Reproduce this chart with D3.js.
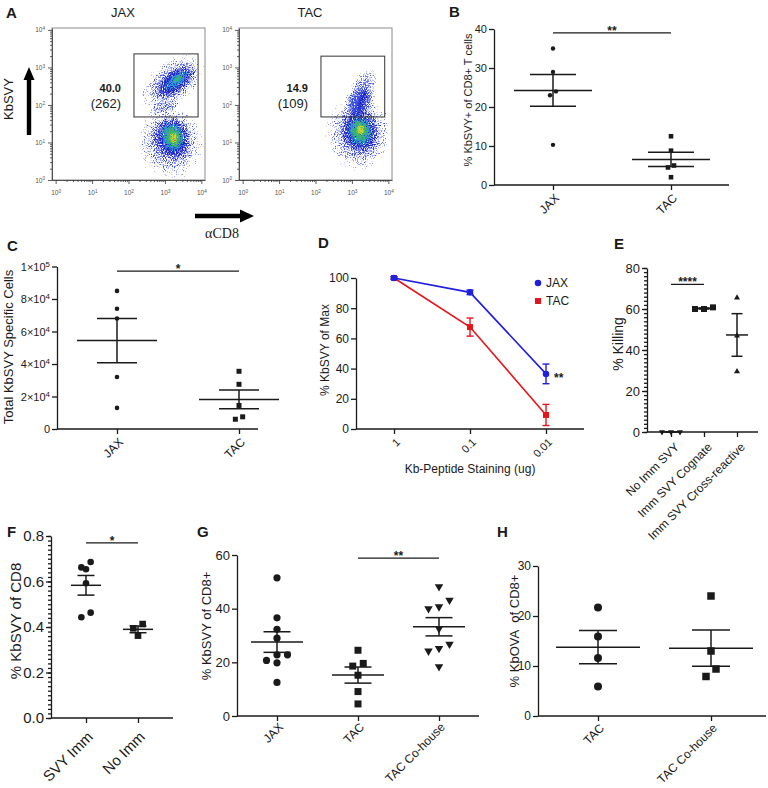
<!DOCTYPE html>
<html>
<head>
<meta charset="utf-8">
<script src="https://cdnjs.cloudflare.com/ajax/libs/d3/7.8.5/d3.min.js"></script>
<style>
  body { margin: 0; background: #fff; }
  svg { display: block; font-family: "Liberation Sans", Arial, Helvetica, sans-serif; }
  .axis path, .axis line { stroke: #1a1a1a; stroke-width: 1.3; }
  .axis text { fill: #1a1a1a; }
  .faxis path, .faxis line { stroke: #333; stroke-width: 0.8; }
</style>
</head>
<body>
<script>

// ---- A: flow plots (log10 units) ----
var flowDecades = [0, 1, 2, 3, 4];
var jaxGate = [2.15, 3.91, 1.68, 3.36];
var tacGate = [2.15, 3.9, 1.68, 3.3];
var jaxGateText = ["40.0", "(262)"];
var tacGateText = ["14.9", "(109)"];
// density blobs: centre, radii (decades), tilt, density level
var jaxBlobs = [
  {cx: 3.15, cy: 1.0, rx: 1.0, ry: 1.1, rot: 0, level: 0},
  {cx: 3.2, cy: 2.6, rx: 1.1, ry: 0.65, rot: -38, level: 0},
  {cx: 3.2, cy: 1.1, rx: 0.6, ry: 0.72, rot: -20, level: 1},
  {cx: 3.28, cy: 2.62, rx: 0.75, ry: 0.38, rot: -38, level: 1},
  {cx: 3.2, cy: 1.15, rx: 0.4, ry: 0.48, rot: -20, level: 2},
  {cx: 3.32, cy: 2.66, rx: 0.5, ry: 0.22, rot: -38, level: 2},
  {cx: 3.22, cy: 1.15, rx: 0.3, ry: 0.38, rot: -20, level: 3},
  {cx: 3.36, cy: 2.7, rx: 0.28, ry: 0.11, rot: -38, level: 3},
  {cx: 3.24, cy: 1.12, rx: 0.17, ry: 0.22, rot: 0, level: 4},
  {cx: 3.25, cy: 1.1, rx: 0.09, ry: 0.11, rot: 0, level: 5}
];
var tacBlobs = [
  {cx: 3.18, cy: 1.25, rx: 1.0, ry: 1.15, rot: 0, level: 0},
  {cx: 3.3, cy: 2.4, rx: 0.75, ry: 0.38, rot: -70, level: 0},
  {cx: 3.22, cy: 1.3, rx: 0.6, ry: 0.75, rot: -15, level: 1},
  {cx: 3.3, cy: 2.2, rx: 0.35, ry: 0.15, rot: -70, level: 1},
  {cx: 3.22, cy: 1.3, rx: 0.42, ry: 0.5, rot: -15, level: 2},
  {cx: 3.22, cy: 1.3, rx: 0.32, ry: 0.38, rot: -15, level: 3},
  {cx: 3.24, cy: 1.33, rx: 0.17, ry: 0.2, rot: 0, level: 4},
  {cx: 3.25, cy: 1.35, rx: 0.09, ry: 0.1, rot: 0, level: 5}
];

// ---- B ----
var bCats = ["JAX", "TAC"];
var bJax = [35, 29, 24, 23, 10.3];
var bTac = [12.5, 8.8, 5, 4.5, 2];

// ---- C ----
var cCats = ["JAX", "TAC"];
var cJax = [85000, 74000, 68000, 32000, 13000];
var cTac = [35500, 27500, 14500, 7500, 6000];

// ---- D ----
var dDoses = ["1", "0.1", "0.01"];
var dJax = [100, 90.5, 36.5];
var dJaxErr = [0.8, 1.5, 6.5];
var dTac = [100, 67.5, 9.3];
var dTacErr = [0.8, 6, 7];

// ---- E ----
var eCats = ["No Imm SVY", "Imm SVY Cognate", "Imm SVY Cross-reactive"];
var eNoImm = [0, 0, 0];
var eCognate = [60.8, 60, 60];
var eCross = [65.5, 47, 29.5];

// ---- F ----
var fCats = ["SVY Imm", "No Imm"];
var fSvy = [0.686, 0.662, 0.654, 0.592, 0.463, 0.443];
var fNoImm = [0.413, 0.394, 0.362];

// ---- G ----
var gCats = ["JAX", "TAC", "TAC Co-house"];
var gJax = [51.5, 36.6, 32.3, 29, 22.8, 22.8, 20.7, 19.8, 12.5];
var gTac = [24.5, 19.6, 18.6, 15.2, 9.1, 4.5];
var gCohouse = [48.2, 43.2, 40.7, 40, 32.6, 26.8, 25.2, 24.2, 18.4];

// ---- H ----
var hCats = ["TAC", "TAC Co-house"];
var hTac = [21.7, 15.9, 11.6, 5.9];
var hCohouse = [24, 13, 9.4, 7.9];


var ink = "#1a1a1a";
var svg = d3.select("body").append("svg").attr("width", 768).attr("height", 788);
var defs = svg.append("defs");

// flow density: each level becomes grainy dots whose density follows the blob's alpha
var flowColors = ["#3a4ee0", "#1c22c2", "#2b9bd6", "#3db664", "#c8d634", "#e2521e"];
var levelAlpha = [[0.66, 0.52, 0.28], [0.78, 0.64, 0.36], [0.85, 0.66, 0.38],
                  [0.85, 0.68, 0.4], [0.88, 0.7, 0.42], [0.9, 0.74, 0.46]];
flowColors.forEach(function (c, L) {
  var f = defs.append("filter").attr("id", "dots" + L)
      .attr("filterUnits", "userSpaceOnUse").attr("x", 0).attr("y", 0)
      .attr("width", 420).attr("height", 200)
      .attr("color-interpolation-filters", "sRGB");
  f.append("feGaussianBlur").attr("in", "SourceAlpha").attr("stdDeviation", 2).attr("result", "b");
  f.append("feTurbulence").attr("type", "fractalNoise").attr("baseFrequency", 0.9)
      .attr("numOctaves", 1).attr("seed", L * 3 + 1).attr("result", "n");
  f.append("feColorMatrix").attr("in", "n").attr("type", "matrix")
      .attr("values", "0 0 0 0 0  0 0 0 0 0  0 0 0 0 0  0 0 0 1 0").attr("result", "na");
  f.append("feComposite").attr("in", "b").attr("in2", "na").attr("operator", "arithmetic")
      .attr("k1", 0).attr("k2", 5).attr("k3", -5).attr("k4", 0).attr("result", "d");
  f.append("feFlood").attr("flood-color", c).attr("result", "f");
  f.append("feComposite").attr("in", "f").attr("in2", "d").attr("operator", "in");

  var gr = defs.append("radialGradient").attr("id", "dens" + L);
  [0, 0.6, 1].forEach(function (o, i) {
    gr.append("stop").attr("offset", o).attr("stop-color", "#000").attr("stop-opacity", levelAlpha[L][i]);
  });
});

function supText(sel, base, exp) {
  sel.text("");
  sel.append("tspan").text(base);
  sel.append("tspan").attr("dy", "-0.45em").attr("font-size", "72%").text(exp);
}

// panel letters
[["A", 6, 18], ["B", 449, 17], ["C", 7, 251], ["D", 318, 248], ["E", 614, 249],
 ["F", 7, 537], ["G", 197, 537], ["H", 497, 537]].forEach(function (l) {
  svg.append("text").attr("x", l[1]).attr("y", l[2]).attr("font-size", 15)
      .attr("font-weight", "bold").attr("fill", ink).text(l[0]);
});

// ---------------- A ----------------
function flowPlot(o) {
  var g = svg.append("g");
  var top = 28, bottom = 180, w = 153;
  var x = d3.scaleLinear().domain([-0.1, 4.1]).range([o.left, o.left + w]);
  var y = d3.scaleLinear().domain([0, 4.05]).range([bottom, top]);
  var k = x(1) - x(0);

  defs.append("clipPath").attr("id", "clip" + o.name)
      .append("rect").attr("x", o.left).attr("y", top).attr("width", w).attr("height", bottom - top);
  var pts = g.append("g").attr("clip-path", "url(#clip" + o.name + ")");

  d3.range(6).forEach(function (L) {
    var lg = pts.append("g").attr("filter", "url(#dots" + L + ")");
    o.blobs.filter(function (b) { return b.level === L; }).forEach(function (b) {
      var cx = x(b.cx), cy = y(b.cy);
      lg.append("ellipse").attr("cx", cx).attr("cy", cy)
          .attr("rx", b.rx * k).attr("ry", b.ry * k)
          .attr("transform", "rotate(" + (b.rot || 0) + "," + cx + "," + cy + ")")
          .attr("fill", "url(#dens" + L + ")");
    });
  });

  g.append("rect").attr("x", o.left).attr("y", top).attr("width", w).attr("height", bottom - top)
      .attr("fill", "none").attr("stroke", "#8a8a8a").attr("stroke-width", 1);

  var minor = [];
  flowDecades.slice(0, -1).forEach(function (d) {
    for (var m = 2; m < 10; m++) minor.push(d + Math.log10(m));
  });

  var xa = g.append("g").attr("class", "faxis").attr("transform", "translate(0," + bottom + ")");
  xa.call(d3.axisBottom(x).tickValues(minor).tickSize(2).tickFormat("").tickSizeOuter(0));
  xa.select(".domain").remove();
  var xb = g.append("g").attr("class", "faxis").attr("transform", "translate(0," + bottom + ")")
      .call(d3.axisBottom(x).tickValues(flowDecades).tickSize(4).tickSizeOuter(0).tickPadding(6));
  xb.attr("font-family", null).attr("font-size", 6.5);
  xb.selectAll("text").attr("fill", "#555").each(function (d) { supText(d3.select(this), "10", d); });

  var ya = g.append("g").attr("class", "faxis").attr("transform", "translate(" + o.left + ",0)");
  ya.call(d3.axisLeft(y).tickValues(minor).tickSize(2).tickFormat("").tickSizeOuter(0));
  ya.select(".domain").remove();
  var yb = g.append("g").attr("class", "faxis").attr("transform", "translate(" + o.left + ",0)")
      .call(d3.axisLeft(y).tickValues(flowDecades).tickSize(4).tickSizeOuter(0).tickPadding(3));
  yb.attr("font-family", null).attr("font-size", 6.5);
  yb.selectAll("text").attr("fill", "#555").each(function (d) { supText(d3.select(this), "10", d); });

  g.append("rect").attr("x", x(o.gate[0])).attr("y", y(o.gate[3]))
      .attr("width", x(o.gate[1]) - x(o.gate[0])).attr("height", y(o.gate[2]) - y(o.gate[3]))
      .attr("fill", "none").attr("stroke", "#333").attr("stroke-width", 1);

  g.append("text").attr("x", o.left + 69).attr("y", 92).attr("text-anchor", "end")
      .attr("font-size", 11).attr("font-weight", "bold").attr("fill", ink).text(o.text[0]);
  g.append("text").attr("x", o.left + 69).attr("y", 108).attr("text-anchor", "end")
      .attr("font-size", 13).attr("fill", ink).text(o.text[1]);

  g.append("text").attr("x", o.left + 71).attr("y", 17).attr("text-anchor", "middle")
      .attr("font-size", 13).attr("fill", ink).text(o.name);
}

flowPlot({name: "JAX", left: 52, blobs: jaxBlobs, gate: jaxGate, text: jaxGateText});
flowPlot({name: "TAC", left: 239, blobs: tacBlobs, gate: tacGate, text: tacGateText});

// axis arrows and labels of A
svg.append("path").attr("d", "M26.8,135 V80 H23.5 L29,67 L34.5,80 H31.2 V135 Z").attr("fill", "#000");
svg.append("text").attr("transform", "translate(13,99) rotate(-90)").attr("text-anchor", "middle")
    .attr("font-size", 13).attr("fill", ink).text("KbSVY");
svg.append("path").attr("d", "M195,213.8 H240 V209.5 L254,216 L240,222.5 V218.2 H195 Z").attr("fill", "#000");
svg.append("text").attr("x", 222).attr("y", 238).attr("text-anchor", "middle")
    .attr("font-family", "'Liberation Serif', 'Times New Roman', serif")
    .attr("font-size", 14).attr("fill", ink).text("\u03b1CD8");

// ---------------- scatter panels with mean ± SEM ----------------
function mark(g, shape, cx, cy, size, color) {
  var types = {circle: d3.symbolCircle, square: d3.symbolSquare, triUp: d3.symbolTriangle, triDown: d3.symbolTriangle};
  var area = shape === "circle" ? Math.PI * size * size / 4
      : shape === "square" ? size * size : Math.sqrt(3) / 4 * size * size;
  g.append("path").attr("d", d3.symbol(types[shape], area)())
      .attr("transform", "translate(" + cx + "," + cy + ")" + (shape === "triDown" ? " rotate(180)" : ""))
      .attr("fill", color || ink);
}

// spread points that collide vertically into rows, like the original software
function spread(vals, y, d, s) {
  var pts = vals.map(function (v) { return {v: v, py: y(v)}; })
      .sort(function (a, b) { return a.py - b.py; });
  var rows = [], row = null;
  pts.forEach(function (p) {
    if (row && p.py - row[0].py < d) row.push(p);
    else { row = [p]; rows.push(row); }
  });
  rows.forEach(function (r) {
    r.sort(function (a, b) { return a.v - b.v; });
    r.forEach(function (p, i) { p.dx = (i - (r.length - 1) / 2) * s; });
  });
  return pts;
}

function dotPanel(o) {
  var g = svg.append("g");
  var y = d3.scaleLinear().domain(o.yDomain).range(o.yRange);
  var x = d3.scalePoint().domain(o.cats).range(o.catRange);
  var base = o.yRange[0];

  if (o.minor) {
    var mi = g.append("g").attr("class", "axis").attr("transform", "translate(" + o.axisX[0] + ",0)")
        .call(d3.axisLeft(y).tickValues(o.minor).tickSize(3).tickFormat("").tickSizeOuter(0));
    mi.select(".domain").remove();
  }
  var ya = g.append("g").attr("class", "axis").attr("transform", "translate(" + o.axisX[0] + ",0)")
      .call(d3.axisLeft(y).tickValues(o.ticks).tickSize(5).tickSizeOuter(0).tickPadding(2)
          .tickFormat(o.fmt || d3.format("d")));
  ya.attr("font-family", null).attr("font-size", o.tickFont);
  if (o.sci) ya.selectAll("text").each(o.sci);

  g.append("line").attr("x1", o.axisX[0]).attr("x2", o.axisX[1])
      .attr("y1", base).attr("y2", base).attr("stroke", ink).attr("stroke-width", 1.3);
  var xa = g.append("g").attr("class", "axis").attr("transform", "translate(0," + base + ")")
      .call(d3.axisBottom(x).tickSize(5).tickFormat(""));
  xa.select(".domain").remove();

  o.cats.forEach(function (c) {
    g.append("text")
        .attr("transform", "translate(" + (x(c) + (o.labDx || 4)) + "," + (base + o.labDy) + ") rotate(-45)")
        .attr("text-anchor", "end").attr("dominant-baseline", "central")
        .attr("font-size", o.catFont).attr("fill", ink).text(c);
  });

  g.append("text").attr("transform", "translate(" + o.label[1] + "," + o.label[2] + ") rotate(-90)")
      .attr("text-anchor", "middle").attr("font-size", o.label[3]).attr("fill", ink)
      .text(o.label[0]);

  o.groups.forEach(function (vals, gi) {
    var cx = x(o.cats[gi]);
    spread(vals, y, o.size[gi] * 1.05, o.step).forEach(function (p) {
      mark(g, o.shapes[gi], cx + p.dx, p.py, o.size[gi]);
    });
    var m = d3.mean(vals), sem = d3.deviation(vals) / Math.sqrt(vals.length);
    var eb = g.append("g").attr("stroke", ink).attr("stroke-width", 1.5);
    eb.append("line").attr("x1", cx - o.meanW).attr("x2", cx + o.meanW).attr("y1", y(m)).attr("y2", y(m));
    eb.append("line").attr("x1", cx).attr("x2", cx).attr("y1", y(m - sem)).attr("y2", y(m + sem));
    [m - sem, m + sem].forEach(function (v) {
      eb.append("line").attr("x1", cx - o.capW).attr("x2", cx + o.capW).attr("y1", y(v)).attr("y2", y(v));
    });
  });

  if (o.sig) {
    var sy = y(o.sig.at);
    g.append("line").attr("x1", x(o.cats[o.sig.from])).attr("x2", x(o.cats[o.sig.to]))
        .attr("y1", sy).attr("y2", sy).attr("stroke", ink).attr("stroke-width", 1.3);
    g.append("text").attr("x", (x(o.cats[o.sig.from]) + x(o.cats[o.sig.to])) / 2).attr("y", sy + 2)
        .attr("text-anchor", "middle").attr("font-size", 12).attr("font-weight", "bold")
        .attr("fill", ink).text(o.sig.text);
  }
}

function sciTick(v) {
  var t = d3.select(this);
  if (v === 0) return;
  var e = Math.floor(Math.log10(v) + 1e-9), m = Math.round(v / Math.pow(10, e));
  supText(t, m + "\u00d710", e);
}

// B
dotPanel({
  cats: bCats, groups: [bJax, bTac], shapes: ["circle", "square"], size: [4.4, 4.6], step: 6,
  yDomain: [0, 40], yRange: [185, 29], ticks: [0, 10, 20, 30, 40], tickFont: 11,
  catRange: [553, 671], axisX: [494, 729], catFont: 12, labDy: 11,
  label: ["% KbSVY+ of CD8+ T cells", 472, 100, 11], meanW: 39, capW: 23,
  sig: {from: 0, to: 1, at: 39, text: "**"}
});

// C
dotPanel({
  cats: cCats, groups: [cJax, cTac], shapes: ["circle", "square"], size: [4.6, 5], step: 7.3,
  yDomain: [0, 100000], yRange: [429, 266.5], ticks: [0, 20000, 40000, 60000, 80000, 100000],
  tickFont: 11, sci: sciTick,
  catRange: [117, 239], axisX: [57, 258], catFont: 12, labDy: 11,
  label: ["Total KbSVY Specific Cells", 13, 347, 13], meanW: 40, capW: 20,
  sig: {from: 0, to: 1, at: 97200, text: "*"}
});

// E
dotPanel({
  cats: eCats, groups: [eNoImm, eCognate, eCross], shapes: ["triDown", "square", "triUp"],
  size: [6, 6, 6], step: 9,
  yDomain: [0, 80], yRange: [432, 268], ticks: [0, 20, 40, 60, 80], tickFont: 13,
  minor: d3.range(0, 81, 2),
  catRange: [671, 737], axisX: [647, 758], catFont: 12, labDy: 13, labDx: 6,
  label: ["% Killing", 623, 344, 14], meanW: 11, capW: 5.5,
  sig: {from: 0, to: 1, at: 72, text: "****"}
});

// F
dotPanel({
  cats: fCats, groups: [fSvy, fNoImm], shapes: ["circle", "square"], size: [6.6, 6.6], step: 9.3,
  yDomain: [0, 0.8], yRange: [718, 536], ticks: [0, 0.2, 0.4, 0.6, 0.8], tickFont: 15,
  fmt: d3.format(".1f"), minor: d3.range(0, 41).map(function (i) { return i * 0.02; }),
  catRange: [86, 138], axisX: [51, 173], catFont: 15, labDy: 16,
  label: ["% KbSVY of CD8", 21, 621, 15], meanW: 15, capW: 8.5,
  sig: {from: 0, to: 1, at: 0.77, text: "*"}
});

// G
dotPanel({
  cats: gCats, groups: [gJax, gTac, gCohouse], shapes: ["circle", "square", "triDown"],
  size: [7.2, 7, 8.5], step: 10.5,
  yDomain: [0, 60], yRange: [716, 555], ticks: [0, 20, 40, 60], tickFont: 13,
  catRange: [277, 439], axisX: [237, 479], catFont: 12, labDy: 9,
  label: ["% KbSVY of CD8+", 211, 626, 13], meanW: 26, capW: 13.5,
  sig: {from: 1, to: 2, at: 58.8, text: "**"}
});

// H
dotPanel({
  cats: hCats, groups: [hTac, hCohouse], shapes: ["circle", "square"], size: [8, 7.5], step: 10,
  yDomain: [0, 30], yRange: [716, 566], ticks: [0, 10, 20, 30], tickFont: 12,
  catRange: [598, 711], axisX: [538, 766], catFont: 12, labDy: 10,
  label: ["% KbOVA\u00a0 of CD8+", 519, 631, 13], meanW: 42, capW: 19
});

// ---------------- D ----------------
(function () {
  var g = svg.append("g");
  var y = d3.scaleLinear().domain([0, 100]).range([429, 278]);
  var x = d3.scalePoint().domain(dDoses).range([394, 546]);
  var ya = g.append("g").attr("class", "axis").attr("transform", "translate(356,0)")
      .call(d3.axisLeft(y).tickValues([0, 20, 40, 60, 80, 100]).tickSize(5).tickSizeOuter(0).tickPadding(2));
  ya.attr("font-family", null).attr("font-size", 12);
  g.append("line").attr("x1", 356).attr("x2", 584).attr("y1", 429).attr("y2", 429)
      .attr("stroke", ink).attr("stroke-width", 1.3);
  var xa = g.append("g").attr("class", "axis").attr("transform", "translate(0,429)")
      .call(d3.axisBottom(x).tickSize(5).tickFormat(""));
  xa.select(".domain").remove();
  dDoses.forEach(function (d) {
    g.append("text").attr("transform", "translate(" + (x(d) + 4) + ",440) rotate(-45)")
        .attr("text-anchor", "end").attr("dominant-baseline", "central")
        .attr("font-size", 11).attr("fill", ink).text(d);
  });
  g.append("text").attr("x", 470).attr("y", 473).attr("text-anchor", "middle")
      .attr("font-size", 12).attr("fill", ink).text("Kb-Peptide Staining (ug)");
  g.append("text").attr("transform", "translate(329,350) rotate(-90)").attr("text-anchor", "middle")
      .attr("font-size", 12).attr("fill", ink).text("% KbSVY of Max");

  var series = [
    {name: "JAX", vals: dJax, err: dJaxErr, color: "#1f1fe0", shape: "circle", size: 6.5},
    {name: "TAC", vals: dTac, err: dTacErr, color: "#e8141c", shape: "square", size: 6}
  ];
  var line = d3.line().x(function (d, i) { return x(dDoses[i]); }).y(function (d) { return y(d); });
  series.slice().reverse().forEach(function (s) {
    g.append("path").attr("d", line(s.vals)).attr("fill", "none")
        .attr("stroke", s.color).attr("stroke-width", 1.6);
    var eb = g.append("g").attr("stroke", s.color).attr("stroke-width", 1.4);
    s.vals.forEach(function (v, i) {
      var cx = x(dDoses[i]), lo = y(v - s.err[i]), hi = y(Math.min(v + s.err[i], 101));
      eb.append("line").attr("x1", cx).attr("x2", cx).attr("y1", lo).attr("y2", hi);
      [lo, hi].forEach(function (yy) {
        eb.append("line").attr("x1", cx - 3.5).attr("x2", cx + 3.5).attr("y1", yy).attr("y2", yy);
      });
      mark(g, s.shape, cx, y(v), s.size, s.color);
    });
  });
  series.forEach(function (s, i) {
    mark(g, s.shape, 538, 283 + i * 18, s.size, s.color);
    g.append("text").attr("x", 546).attr("y", 283 + i * 18).attr("dominant-baseline", "central")
        .attr("font-size", 12).attr("fill", ink).text(s.name);
  });
  g.append("text").attr("x", 554).attr("y", y(dJax[2]) + 8).attr("font-size", 12)
      .attr("font-weight", "bold").attr("fill", ink).text("**");
})();

</script>
</body>
</html>
